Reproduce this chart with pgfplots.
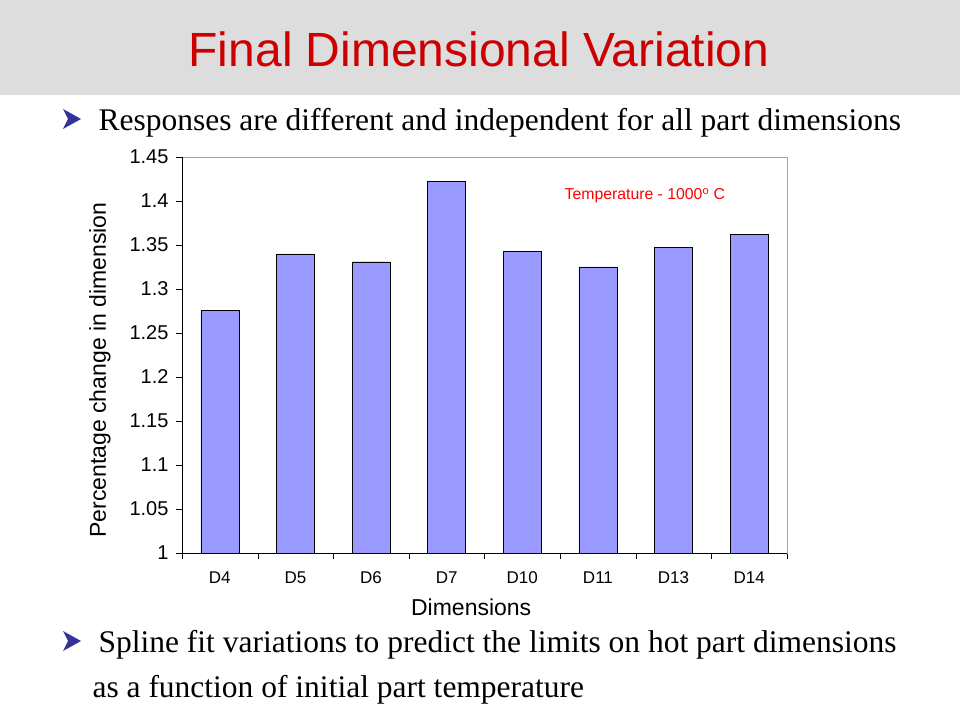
\documentclass[border=0pt]{standalone}
\usepackage{pgfplots}
\pgfplotsset{compat=1.18}
\usepackage{fontspec}
\setmainfont{Liberation Serif}
\newfontfamily\arial{Liberation Sans}
\definecolor{titlered}{HTML}{CC0000}
\definecolor{band}{HTML}{DDDDDD}
\definecolor{barblue}{HTML}{9999FF}
\definecolor{bulletblue}{HTML}{333399}
\begin{document}
\begin{tikzpicture}[x=1pt,y=1pt]
\fill[white] (0,0) rectangle (960,720);
\fill[band] (0,625) rectangle (960,720);
\node[text=titlered,font=\arial\fontsize{48}{52}\selectfont] at (479,671) {Final Dimensional Variation};
% bullets
\fill[bulletblue] (63,611) -- (81,601) -- (63,591) -- (68,601) -- cycle;
\node[anchor=base west,font=\fontsize{31.5}{34}\selectfont] at (95,589) {Responses are different and independent for all part dimensions};
\fill[bulletblue] (63,89) -- (81,79) -- (63,69) -- (68,79) -- cycle;
\node[anchor=base west,font=\fontsize{31.5}{34}\selectfont] at (95,68) {Spline fit variations to predict the limits on hot part dimensions};
\node[anchor=base west,font=\fontsize{31.5}{34}\selectfont] at (89,23) {as a function of initial part temperature};
\begin{axis}[
  at={(182pt,167pt)}, anchor=south west,
  scale only axis, width=605pt, height=396pt,
  xmin=-0.5, xmax=7.5, ymin=1, ymax=1.45,
  ytick={1,1.05,...,1.45},
  xtick={0,...,7},
  xticklabels={D4,D5,D6,D7,D10,D11,D13,D14},
  minor xtick={-0.5,0.5,...,7.5},
  tick align=outside,
  xtick pos=bottom, ytick pos=left,
  major x tick style={draw=none},
  minor tick length=6pt,
  major tick length=6pt,
  tick style={black},
  axis line style={gray!70},
  yticklabel style={/pgf/number format/fixed,/pgf/number format/precision=2,
     font=\arial\fontsize{20}{22}\selectfont, xshift=-4pt},
  /pgf/number format/assume math mode=true,
  xticklabel style={font=\arial\fontsize{17}{19}\selectfont, yshift=-9pt},
  label style={font=\arial\fontsize{23}{25}\selectfont},
  xlabel={Dimensions},
  ylabel={Percentage change in dimension},
  xlabel style={at={(axis description cs:0.478,-0.136)},anchor=center},
  ylabel style={at={(axis description cs:-0.1355,0.462)},anchor=center},
  clip=false,
]
\addplot[ybar, bar width=38pt, fill=barblue, draw=black] coordinates {
(0,1.276) (1,1.340) (2,1.331) (3,1.422) (4,1.343) (5,1.325) (6,1.347) (7,1.362)};
\draw[black] (rel axis cs:0,0) -- (rel axis cs:0,1);
\draw[black] (rel axis cs:0,0) -- (rel axis cs:1,0);
\node[text=red,font=\arial\fontsize{15.8}{17}\selectfont] at (axis cs:5.62,1.406) {Temperature - 1000\textsuperscript{o} C};
\end{axis}
\end{tikzpicture}
\end{document}
